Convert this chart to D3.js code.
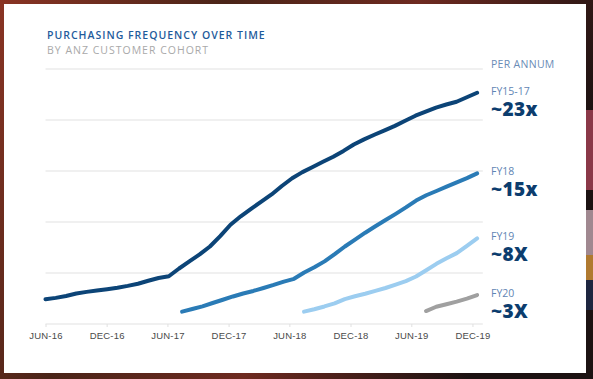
<!DOCTYPE html>
<html>
<head>
<meta charset="utf-8">
<script src="https://cdn.jsdelivr.net/npm/d3@7"></script>
<style>
  body { margin: 0; background: #2a1713; }
  svg { display: block; font-family: "Open Sans", sans-serif; }
  .tick text { fill: #4a4a4a; font-size: 9.5px; }
</style>
</head>
<body>
<div class="chart"></div>
<script>
// cohorts, each line starts at its first month (mid-month) and ends mid Dec-19
var cohorts = ["FY15-17", "FY18", "FY19", "FY20"];
var cohortLabels = ["~23x", "~15x", "~8X", "~3X"];
var cohortStart = ["2016-06-01", "2017-07-15", "2018-07-15", "2019-07-15"];
var cohortEnd = "2019-12-15";

// purchases per customer (cumulative)
var fy1517 = [2.42, 2.56, 2.75, 2.99, 3.15, 3.28, 3.41, 3.56, 3.74, 3.95, 4.24, 4.51, 4.68,
  5.44, 6.13, 6.82, 7.60, 8.61, 9.73, 10.56, 11.29, 11.99, 12.70, 13.53, 14.29, 14.89,
  15.39, 15.90, 16.40, 16.97, 17.60, 18.10, 18.55, 18.98, 19.42, 19.92, 20.42, 20.83,
  21.22, 21.52, 21.79, 22.23, 22.67];
var fy18 = [1.21, 1.47, 1.73, 2.06, 2.38, 2.70, 2.99, 3.24, 3.53, 3.83, 4.16, 4.43, 5.05,
  5.56, 6.14, 6.85, 7.60, 8.28, 8.95, 9.58, 10.19, 10.80, 11.43, 12.10, 12.62, 13.04,
  13.46, 13.88, 14.30, 14.77];
var fy19 = [1.21, 1.45, 1.72, 2.02, 2.44, 2.72, 2.97, 3.25, 3.53, 3.86, 4.21, 4.66, 5.27,
  5.90, 6.44, 6.95, 7.67, 8.40];
var fy20 = [1.27, 1.69, 1.94, 2.19, 2.49, 2.84];

var tickDates = ["2016-06-01", "2016-12-01", "2017-06-01", "2017-12-01",
  "2018-06-01", "2018-12-01", "2019-06-01", "2019-12-01"];
var gridValues = [0, 5, 10, 15, 20, 25];

var colors = ["#0c4477", "#2a7bb6", "#9ccdf0", "#a0a0a0"];

var svgWidth = 593;
var svgHeight = 379;

var parseDate = d3.timeParse("%Y-%m-%d");
var series = [fy1517, fy18, fy19, fy20].map(function(values, i) {
  // spread the values evenly between first and last date of the cohort
  var t = d3.scaleLinear()
    .domain([0, values.length - 1])
    .range([parseDate(cohortStart[i]), parseDate(cohortEnd)]);
  return {
    name: cohorts[i],
    label: cohortLabels[i],
    color: colors[i],
    points: values.map(function(v, j) { return { date: new Date(t(j)), value: v }; })
  };
});

var svg = d3.select(".chart")
  .append("svg")
  .attr("width", svgWidth)
  .attr("height", svgHeight);

// photo-ish backdrop behind the card
var defs = svg.append("defs");
var bg = defs.append("linearGradient").attr("id", "bg")
  .attr("x1", 0).attr("y1", 0).attr("x2", 1).attr("y2", 0.3);
bg.append("stop").attr("offset", "0%").attr("stop-color", "#8a3424");
bg.append("stop").attr("offset", "35%").attr("stop-color", "#4a2418");
bg.append("stop").attr("offset", "65%").attr("stop-color", "#6e2a20");
bg.append("stop").attr("offset", "100%").attr("stop-color", "#1c1212");
svg.append("rect").attr("width", svgWidth).attr("height", svgHeight).attr("fill", "url(#bg)");
svg.append("rect").attr("x", 586).attr("y", 110).attr("width", 7).attr("height", 80).attr("fill", "#8a3848");
svg.append("rect").attr("x", 586).attr("y", 210).attr("width", 7).attr("height", 45).attr("fill", "#a08890");
svg.append("rect").attr("x", 586).attr("y", 255).attr("width", 7).attr("height", 25).attr("fill", "#b07a30");
svg.append("rect").attr("x", 586).attr("y", 280).attr("width", 7).attr("height", 30).attr("fill", "#1e2640");

// white card
svg.append("rect")
  .attr("x", 4).attr("y", 4)
  .attr("width", 582).attr("height", 369)
  .attr("fill", "#fff");

var xTimeScale = d3.scaleTime()
  .domain([parseDate("2016-06-01"), parseDate("2020-01-01")])
  .range([45.5, 482.8]);

var yLinearScale = d3.scaleLinear()
  .domain([0, 25])
  .range([324, 69]);

var chart = svg.append("g");

// horizontal grid
chart.selectAll(".grid")
  .data(gridValues)
  .enter()
  .append("line")
  .attr("class", "grid")
  .attr("x1", xTimeScale.range()[0])
  .attr("x2", xTimeScale.range()[1])
  .attr("y1", function(d) { return yLinearScale(d); })
  .attr("y2", function(d) { return yLinearScale(d); })
  .attr("stroke", "#ebebeb")
  .attr("stroke-width", 1.5);

var formatTick = d3.timeFormat("%b-%y");
var bottomAxis = d3.axisBottom(xTimeScale)
  .tickValues(tickDates.map(parseDate))
  .tickSize(3)
  .tickPadding(5)
  .tickFormat(function(d) { return formatTick(d).toUpperCase(); });

var xAxis = chart.append("g")
  .attr("transform", "translate(0," + yLinearScale(0) + ")")
  .call(bottomAxis);
xAxis.select(".domain").remove();
xAxis.selectAll(".tick line").attr("stroke", "#e0e0e0");
xAxis.selectAll(".tick text").attr("font-family", null).attr("letter-spacing", "0.2px");

var line = d3.line()
  .x(function(d) { return xTimeScale(d.date); })
  .y(function(d) { return yLinearScale(d.value); });

chart.selectAll(".cohort")
  .data(series)
  .enter()
  .append("path")
  .attr("class", "cohort")
  .attr("d", function(d) { return line(d.points); })
  .attr("fill", "none")
  .attr("stroke", function(d) { return d.color; })
  .attr("stroke-width", 4)
  .attr("stroke-linecap", "round")
  .attr("stroke-linejoin", "round");

// labels to the right of each line end
var labelX = 491;
var labels = chart.selectAll(".end-label")
  .data(series)
  .enter()
  .append("g")
  .attr("class", "end-label")
  .attr("transform", function(d) {
    var last = d.points[d.points.length - 1];
    return "translate(" + labelX + "," + (yLinearScale(last.value) + 2) + ")";
  });

labels.append("text")
  .attr("font-size", "10.5px")
  .attr("fill", "#5f85b4")
  .text(function(d) { return d.name; });

labels.append("text")
  .attr("y", 21)
  .attr("font-size", "19px")
  .attr("font-weight", 800)
  .attr("letter-spacing", "0.4px")
  .attr("fill", "#0c3d6e")
  .text(function(d) { return d.label; });

svg.append("text")
  .attr("x", labelX)
  .attr("y", 67.5)
  .attr("font-size", "10.5px")
  .attr("letter-spacing", "0.3px")
  .attr("fill", "#6a8cb6")
  .text("PER ANNUM");

// title
svg.append("text")
  .attr("x", 47)
  .attr("y", 39)
  .attr("font-size", "10.5px")
  .attr("font-weight", 600)
  .attr("letter-spacing", "1px")
  .attr("fill", "#1f5c9c")
  .text("PURCHASING FREQUENCY OVER TIME");

svg.append("text")
  .attr("x", 47)
  .attr("y", 54)
  .attr("font-size", "10.5px")
  .attr("letter-spacing", "1px")
  .attr("fill", "#a9a9a9")
  .text("BY ANZ CUSTOMER COHORT");
</script>
</body>
</html>
